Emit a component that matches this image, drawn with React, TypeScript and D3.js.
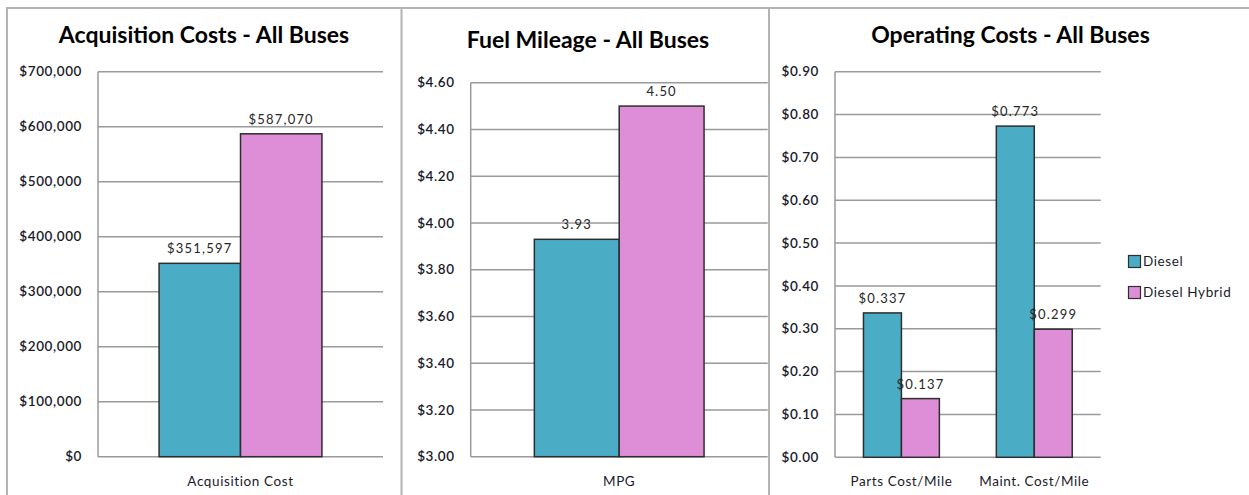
import React from "react";
import * as d3 from "d3";

const seriesNames = ["Diesel", "Diesel Hybrid"];
const seriesColors = ["#4bacc6", "#dd8ed6"];

const acqCategories = ["Acquisition Cost"];
const acqDiesel = [351597];
const acqHybrid = [587070];
const acqTicks = [0, 100000, 200000, 300000, 400000, 500000, 600000, 700000];

const fuelCategories = ["MPG"];
const fuelDiesel = [3.93];
const fuelHybrid = [4.5];
const fuelTicks = [3.0, 3.2, 3.4, 3.6, 3.8, 4.0, 4.2, 4.4, 4.6];

const opCategories = ["Parts Cost/Mile", "Maint. Cost/Mile"];
const opDiesel = [0.337, 0.773];
const opHybrid = [0.137, 0.299];
const opTicks = [0, 0.1, 0.2, 0.3, 0.4, 0.5, 0.6, 0.7, 0.8, 0.9];

const FONT = "Lato, 'Open Sans', sans-serif";
const TEXT = "#1a1a2a";

type PanelProps = {
  title: string;
  titleX: number;
  titleY: number;
  categories: string[];
  values: number[][];
  ticks: number[];
  domain: [number, number];
  left: number;
  right: number;
  top: number;
  bottom: number;
  tickFmt: (v: number) => string;
  labelFmt: (v: number) => string;
};

function Panel(p: PanelProps) {
  const x0 = d3.scaleBand<string>().domain(p.categories).range([p.left, p.right]).padding(0);
  const bw = x0.bandwidth();
  const gap = (bw * 0.75) / 3.5;
  const x1 = d3.scaleBand<string>().domain(seriesNames).range([gap, bw - gap]).padding(0);
  const y = d3.scaleLinear().domain(p.domain).range([p.bottom, p.top]);
  return (
    <g>
      <text x={p.titleX} y={p.titleY} textAnchor="middle" fontFamily={FONT} fontWeight={700} fontSize={23} fill="#000">
        {p.title}
      </text>
      {p.ticks.map((t, i) => (
        <g key={i}>
          <line x1={p.left} x2={p.right} y1={y(t)} y2={y(t)} stroke="#9a9a9a" strokeWidth={1.5} />
          <text x={p.left - 16} y={y(t)} dy="0.35em" textAnchor="end" fontFamily={FONT} fontSize={13.5} fontWeight={600} fill={TEXT} letterSpacing={0.6}>
            {p.tickFmt(t)}
          </text>
        </g>
      ))}
      <line x1={p.left} x2={p.left} y1={p.top} y2={p.bottom} stroke="#9a9a9a" strokeWidth={1.5} />
      {p.categories.map((c, ci) => (
        <g key={c}>
          {seriesNames.map((s, si) => {
            const v = p.values[si][ci];
            const bx = (x0(c) as number) + (x1(s) as number);
            const by = y(v);
            return (
              <g key={s}>
                <rect x={bx} y={by} width={x1.bandwidth()} height={p.bottom - by} fill={seriesColors[si]} stroke="#2e2e2e" strokeWidth={1.5} />
                <text x={bx + x1.bandwidth() / 2} y={by - 10} textAnchor="middle" fontFamily={FONT} fontSize={13} fill="#262626" letterSpacing={1.2}>
                  {p.labelFmt(v)}
                </text>
              </g>
            );
          })}
          <text x={(x0(c) as number) + bw / 2} y={486} textAnchor="middle" fontFamily={FONT} fontSize={13.5} fill={TEXT} letterSpacing={0.6}>
            {c}
          </text>
        </g>
      ))}
    </g>
  );
}

export default function App() {
  const fmtMoney0 = d3.format("$,.0f");
  return (
    <div style={{ position: "absolute", left: 0, top: 0 }}>
      <svg width={1249} height={495} style={{ display: "block", background: "#fff" }}>
        <rect x={0} y={0} width={1249} height={495} fill="#fff" />
        <line x1={6} x2={1249} y1={8} y2={8} stroke="#b3b3b3" strokeWidth={2} />
        <line x1={7} x2={7} y1={8} y2={495} stroke="#b3b3b3" strokeWidth={2} />
        <line x1={401.5} x2={401.5} y1={8} y2={495} stroke="#b3b3b3" strokeWidth={2} />
        <line x1={769} x2={769} y1={8} y2={495} stroke="#b3b3b3" strokeWidth={2} />
        <Panel
          title="Acquisition Costs - All Buses"
          titleX={204}
          titleY={43}
          categories={acqCategories}
          values={[acqDiesel, acqHybrid]}
          ticks={acqTicks}
          domain={[0, 700000]}
          left={98}
          right={383}
          top={71.7}
          bottom={456.7}
          tickFmt={fmtMoney0}
          labelFmt={fmtMoney0}
        />
        <Panel
          title="Fuel Mileage - All Buses"
          titleX={588}
          titleY={48}
          categories={fuelCategories}
          values={[fuelDiesel, fuelHybrid]}
          ticks={fuelTicks}
          domain={[3, 4.6]}
          left={470.7}
          right={767.7}
          top={82.7}
          bottom={456.7}
          tickFmt={d3.format("$.2f")}
          labelFmt={d3.format(".2f")}
        />
        <Panel
          title="Operating Costs - All Buses"
          titleX={1010.5}
          titleY={43}
          categories={opCategories}
          values={[opDiesel, opHybrid]}
          ticks={opTicks}
          domain={[0, 0.9]}
          left={835}
          right={1100.7}
          top={71.7}
          bottom={457.3}
          tickFmt={d3.format("$.2f")}
          labelFmt={d3.format("$.3f")}
        />
        {seriesNames.map((s, i) => (
          <g key={s}>
            <rect x={1128.5} y={255.5 + i * 31} width={12} height={12} fill={seriesColors[i]} stroke="#2e2e2e" strokeWidth={1.2} />
            <text x={1143} y={261.5 + i * 31} dy="0.35em" fontFamily={FONT} fontSize={13.5} fill={TEXT} letterSpacing={0.6}>
              {s}
            </text>
          </g>
        ))}
      </svg>
    </div>
  );
}
